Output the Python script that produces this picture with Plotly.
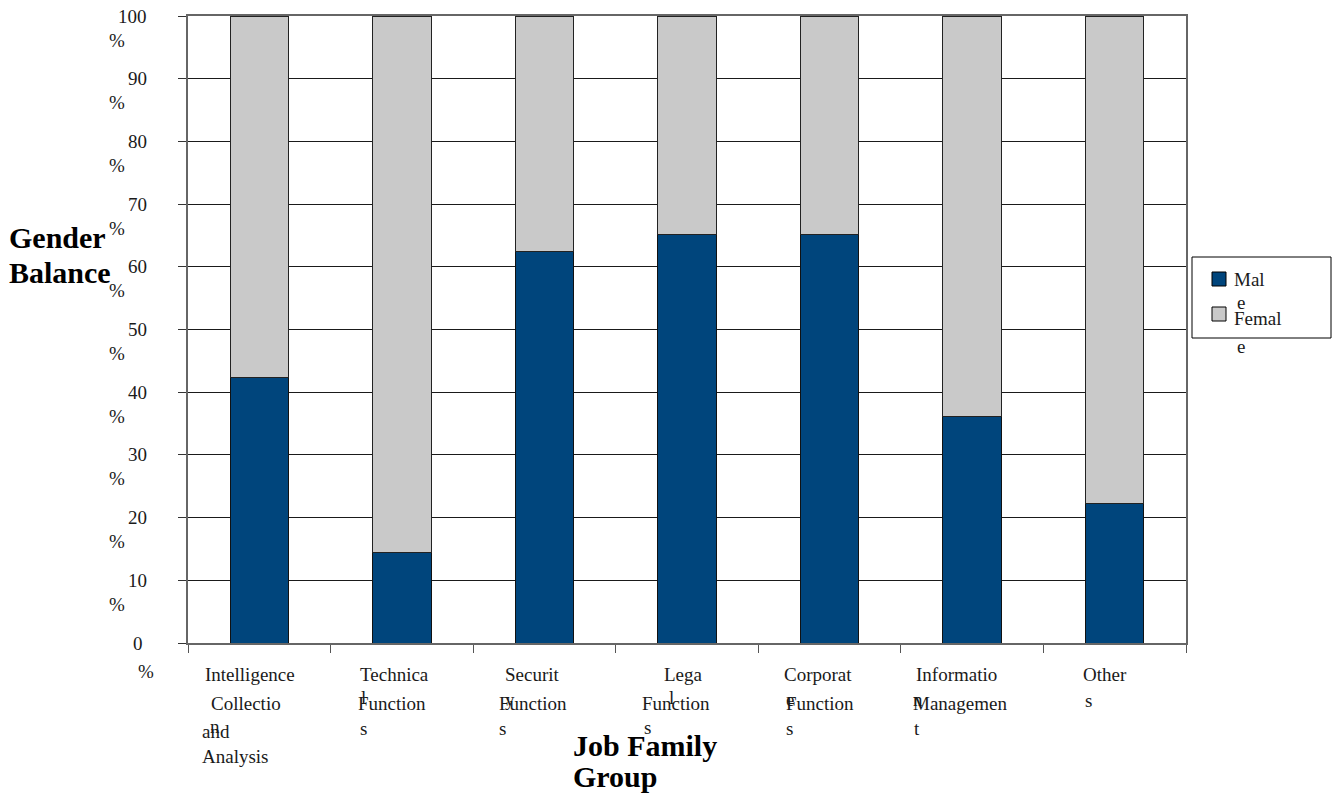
import plotly.graph_objects as go

# ---- data -------------------------------------------------------------
categories = [
    "Intelligence Collection and Analysis",
    "Technical Functions",
    "Security Functions",
    "Legal Functions",
    "Corporate Functions",
    "Information Management",
    "Others",
]
male_pct = [42.3, 14.5, 62.4, 65.2, 65.1, 36.2, 22.2]
female_pct = [round(100 - m, 1) for m in male_pct]
y_ticks = [0, 10, 20, 30, 40, 50, 60, 70, 80, 90, 100]
series_names = ["Male", "Female"]

# ---- styling ----------------------------------------------------------
W, H = 1337, 793
PLOT_L, PLOT_R, PLOT_T, PLOT_B = 188, 1186, 16, 643
SERIF = "Liberation Serif"
MALE_COLOR = "#00457C"
FEMALE_COLOR = "#C9C9C9"
TEXT_COLOR = "#1a1a1a"


def px_x(px):
    return (px - PLOT_L) / (PLOT_R - PLOT_L)


def px_y(py):
    return (PLOT_B - py) / (PLOT_B - PLOT_T)


fig = go.Figure()
fig.add_trace(go.Bar(
    x=categories, y=male_pct, name=series_names[0],
    marker=dict(color=MALE_COLOR, line=dict(color="#111111", width=1)),
    showlegend=False,
))
fig.add_trace(go.Bar(
    x=categories, y=female_pct, name=series_names[1],
    marker=dict(color=FEMALE_COLOR, line=dict(color="#222222", width=1)),
    showlegend=False,
))

annotations = []

# y tick labels: the number on the tick, the % sign wrapped below it
for v in y_ticks:
    if v == 0:
        annotations.append(dict(x=px_x(138), y=v, xref="paper", yref="y",
                                text=str(v), xanchor="center", yanchor="middle",
                                showarrow=False))
        annotations.append(dict(x=px_x(146), y=v, xref="paper", yref="y",
                                text="%", xanchor="center", yanchor="middle",
                                yshift=-28, showarrow=False))
    else:
        annotations.append(dict(x=px_x(149), y=v, xref="paper", yref="y",
                                text=str(v), xanchor="right", yanchor="middle",
                                showarrow=False))
        annotations.append(dict(x=px_x(107), y=v, xref="paper", yref="y",
                                text="%", xanchor="left", yanchor="middle",
                                yshift=-24, showarrow=False))

# category labels, wrapped into narrow columns (fragments overlap where the
# wrapped text runs into the next line)
label_fragments = [
    [("Intelligence", 203, 675), ("Collectio", 209, 703), ("and", 200, 731),
     ("n", 208, 726), ("Analysis", 200, 756)],
    [("Technica", 358, 675), ("l", 359, 697), ("Function", 356, 703), ("s", 358, 728)],
    [("Securit", 503, 675), ("y", 503, 699), ("Function", 497, 703), ("s", 497, 728)],
    [("Lega", 662, 675), ("l", 667, 697), ("Function", 640, 703), ("s", 642, 727)],
    [("Corporat", 782, 675), ("e", 784, 699), ("Function", 784, 703), ("s", 784, 729)],
    [("Informatio", 914, 675), ("n", 911, 699), ("Managemen", 911, 703), ("t", 912, 729)],
    [("Other", 1081, 675), ("s", 1083, 700)],
]
for frags in label_fragments:
    for text, lx, cy in frags:
        annotations.append(dict(x=px_x(lx), y=px_y(cy), xref="paper", yref="paper",
                                text=text, xanchor="left", yanchor="middle",
                                showarrow=False))

# axis titles
title_font = dict(family=SERIF, size=30, color="#000000")
for text, lx, cy in [("<b>Gender</b>", 7, 237), ("<b>Balance</b>", 7, 272)]:
    annotations.append(dict(x=px_x(lx), y=px_y(cy), xref="paper", yref="paper",
                            text=text, xanchor="left", yanchor="middle",
                            font=title_font, showarrow=False))
for text, lx, cy in [("<b>Job Family</b>", 571, 745), ("<b>Group</b>", 571, 776)]:
    annotations.append(dict(x=px_x(lx), y=px_y(cy), xref="paper", yref="paper",
                            text=text, xanchor="left", yanchor="middle",
                            font=title_font, showarrow=False))

# legend (box, swatches, wrapped names)
shapes = [
    dict(type="rect", xref="paper", yref="paper",
         x0=px_x(1192), x1=px_x(1331), y0=px_y(338), y1=px_y(257),
         line=dict(color="#000000", width=1), fillcolor="white", layer="above"),
    dict(type="rect", xref="paper", yref="paper",
         x0=px_x(1212), x1=px_x(1226), y0=px_y(286), y1=px_y(272),
         line=dict(color="#000000", width=1), fillcolor=MALE_COLOR, layer="above"),
    dict(type="rect", xref="paper", yref="paper",
         x0=px_x(1212), x1=px_x(1226), y0=px_y(321), y1=px_y(307),
         line=dict(color="#000000", width=1), fillcolor=FEMALE_COLOR, layer="above"),
]
for text, lx, cy in [("Mal", 1232, 279), ("e", 1235, 302),
                     ("Femal", 1232, 318), ("e", 1235, 346)]:
    annotations.append(dict(x=px_x(lx), y=px_y(cy), xref="paper", yref="paper",
                            text=text, xanchor="left", yanchor="middle",
                            showarrow=False))

fig.update_layout(
    barmode="stack",
    bargap=0.59,
    width=W, height=H,
    margin=dict(l=PLOT_L, r=W - PLOT_R, t=PLOT_T, b=H - PLOT_B, pad=0),
    paper_bgcolor="white",
    plot_bgcolor="white",
    font=dict(family=SERIF, size=19, color=TEXT_COLOR),
    annotations=annotations,
    shapes=shapes,
    showlegend=False,
)
fig.update_xaxes(
    type="category",
    showticklabels=False,
    ticks="outside", ticklen=8, tickcolor="#555555", tickwidth=1,
    tickson="boundaries",
    showline=True, linecolor="#666666", linewidth=2, mirror=True,
    showgrid=False,
)
fig.update_yaxes(
    range=[0, 100],
    tickvals=y_ticks,
    showticklabels=False,
    ticks="outside", ticklen=8, tickcolor="#333333", tickwidth=1,
    showline=True, linecolor="#666666", linewidth=2, mirror=True,
    showgrid=True, gridcolor="#1a1a1a", gridwidth=1,
    zeroline=False,
)

fig.write_html("out.html")
